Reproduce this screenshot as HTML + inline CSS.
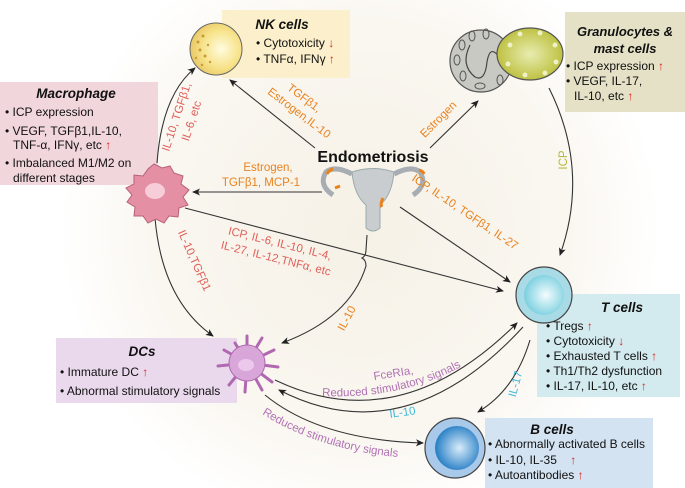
<!DOCTYPE html>
<html><head><meta charset="utf-8"><style>
html,body{margin:0;padding:0;background:#fff;width:685px;height:488px;overflow:hidden}
svg{display:block;font-family:"Liberation Sans",Arial,sans-serif}
</style></head><body>
<svg width="685" height="488" viewBox="0 0 685 488" xmlns="http://www.w3.org/2000/svg" overflow="hidden">
<defs>
<radialGradient id="bg" cx="360" cy="230" r="300" gradientUnits="userSpaceOnUse">
<stop offset="0" stop-color="#f6f1e6"/><stop offset="0.7" stop-color="#faf7f1"/><stop offset="1" stop-color="#ffffff"/></radialGradient>
<marker id="ar" markerWidth="8" markerHeight="8" refX="7" refY="4" orient="auto" markerUnits="userSpaceOnUse"><path d="M0,0.5 L8,4 L0,7.5 L2,4z" fill="#222"/></marker>
<radialGradient id="nk" cx="0.6" cy="0.5" r="0.6"><stop offset="0" stop-color="#fffbe0"/><stop offset="0.6" stop-color="#f7e38a"/><stop offset="1" stop-color="#e7c763"/></radialGradient>
<radialGradient id="tc" cx="0.55" cy="0.5" r="0.6"><stop offset="0" stop-color="#f3fcfe"/><stop offset="1" stop-color="#6fcbdc"/></radialGradient>
<radialGradient id="bc" cx="0.55" cy="0.5" r="0.6"><stop offset="0" stop-color="#d9ecfa"/><stop offset="1" stop-color="#1473bf"/></radialGradient>
<radialGradient id="gr" cx="0.5" cy="0.5" r="0.6"><stop offset="0" stop-color="#e8ecb0"/><stop offset="1" stop-color="#b6b92c"/></radialGradient>
</defs>
<rect width="685" height="488" fill="#fff"/>
<circle cx="360" cy="235" r="300" fill="url(#bg)"/>

<rect x="222" y="10" width="128" height="68" fill="#fcf0cc"/>
<rect x="0" y="82" width="158" height="103" fill="#f1d6dc"/>
<rect x="565" y="12" width="120" height="100" fill="#e4e1c6"/>
<rect x="537" y="294" width="143" height="103" fill="#d3eaee"/>
<rect x="485" y="418" width="168" height="70" fill="#d4e3f2"/>
<rect x="56" y="338" width="181" height="65" fill="#ead9ec"/>

<g fill="none" stroke="#333" stroke-width="1.1">
<path d="M157,163 Q162,95 195,68" marker-end="url(#ar)"/>
<path d="M315,148 L230,80" marker-end="url(#ar)"/>
<path d="M430,148 L478,101" marker-end="url(#ar)"/>
<path d="M322,192 L193,192" marker-end="url(#ar)"/>
<path d="M400,207 L510,282" marker-end="url(#ar)"/>
<path d="M185,208 L503,291" marker-end="url(#ar)"/>
<path d="M367,235 L366,250 Q366,256 362,258 Q366,260 366,266 Q350,318 282,343" marker-end="url(#ar)"/>
<path d="M155,218 Q162,300 213,336" marker-end="url(#ar)"/>
<path d="M549,88 Q590,170 560,255" marker-end="url(#ar)"/>
<path d="M275,380 Q400,440 517,323" marker-end="url(#ar)"/>
<path d="M523,327 Q405,455 279,390" marker-end="url(#ar)"/>
<path d="M530,340 Q515,390 478,412" marker-end="url(#ar)"/>
<path d="M265,395 Q320,440 423,443" marker-end="url(#ar)"/>
</g>
<path id="p1" d="M322,396 Q410,400 476,358" fill="none"/>
<path id="p2" d="M262,414 Q322,452 410,458" fill="none"/>

<circle cx="216" cy="49" r="26" fill="url(#nk)" stroke="#666" stroke-width="1"/>
<g fill="#c99a3c"><circle cx="198" cy="42" r="1.5"/><circle cx="203" cy="36" r="1.5"/><circle cx="200" cy="50" r="1.5"/><circle cx="205" cy="56" r="1.5"/><circle cx="196" cy="58" r="1.2"/><circle cx="208" cy="45" r="1.2"/><circle cx="210" cy="62" r="1.2"/><circle cx="202" cy="65" r="1.2"/></g>
<path d="M154,164 l8,4 8,-2 4,7 9,3 -2,8 8,6 -6,7 5,8 -9,3 -1,9 -9,-1 -5,7 -8,-4 -8,4 -5,-7 -9,0 1,-9 -8,-5 5,-7 -6,-7 8,-4 0,-9 9,1 5,-7z" fill="#e58fa4" stroke="#b8607a" stroke-width="1"/>
<ellipse cx="155" cy="191" rx="10" ry="8" fill="#f6cdd8"/>
<circle cx="481" cy="61" r="31" fill="#c9c9c3" stroke="#555" stroke-width="1.2"/>
<path d="M470,45 q-10,20 5,32 q10,5 12,-15 q3,-18 12,-5" fill="none" stroke="#444" stroke-width="1.2"/>
<g fill="none" stroke="#555"><ellipse cx="462" cy="45" rx="3" ry="5"/><ellipse cx="472" cy="36" rx="3" ry="5"/><ellipse cx="486" cy="34" rx="3" ry="5"/><ellipse cx="457" cy="60" rx="3" ry="5"/><ellipse cx="463" cy="76" rx="3" ry="5"/><ellipse cx="480" cy="86" rx="5" ry="3"/><ellipse cx="500" cy="80" rx="3" ry="5"/><ellipse cx="505" cy="50" rx="3" ry="5"/></g>
<ellipse cx="530" cy="54" rx="33" ry="26" fill="url(#gr)" stroke="#555" stroke-width="1.2"/>
<g fill="#eef0c5"><circle cx="510" cy="45" r="2.5"/><circle cx="520" cy="34" r="2.5"/><circle cx="540" cy="33" r="2.5"/><circle cx="555" cy="45" r="2.5"/><circle cx="556" cy="62" r="2.5"/><circle cx="545" cy="73" r="2.5"/><circle cx="525" cy="75" r="2.5"/><circle cx="508" cy="64" r="2.5"/></g>
<circle cx="544" cy="295" r="28" fill="#a9dbe6" stroke="#444" stroke-width="1.2"/>
<circle cx="544" cy="295" r="20" fill="url(#tc)"/>
<circle cx="455" cy="448" r="30" fill="#a9c9ea" stroke="#444" stroke-width="1.2"/>
<circle cx="457" cy="448" r="22" fill="url(#bc)"/>
<g stroke="#b069b0" stroke-width="3" stroke-linecap="round" fill="none">
<path d="M247,363 L235,343 M247,363 L247,336 M247,363 L262,338 M247,363 L274,350 M247,363 L278,367 M247,363 L272,382 M247,363 L262,390 M247,363 L245,392 M247,363 L229,385 M247,363 L218,366 M247,363 L224,350"/></g>
<circle cx="247" cy="363" r="18" fill="#d8a6d8" stroke="#b069b0"/>
<ellipse cx="246" cy="365" rx="8" ry="6" fill="#ecc9ec"/>
<g>
<path d="M352,172 Q373,165 394,172 Q392,195 380,205 L380,228 Q373,234 366,228 L366,205 Q354,195 352,172z" fill="#c9cdd0" stroke="#9aa" />
<path d="M352,174 Q335,165 326,172 Q318,185 333,195" fill="none" stroke="#a7adb2" stroke-width="5"/>
<path d="M394,174 Q411,165 420,172 Q428,185 413,195" fill="none" stroke="#a7adb2" stroke-width="5"/>
<path d="M327,174 q2,-4 6,-5 M419,170 q4,1 5,4 M340,186 l-5,2 M383,198 q-3,6 -1,9" stroke="#e8821e" stroke-width="3" fill="none"/>
</g>

<g font-size="11.5" fill="#e8821e">
<text transform="translate(302,101) rotate(37)" text-anchor="middle">TGFβ1,</text>
<text transform="translate(297,116) rotate(37)" text-anchor="middle">Estrogen,IL-10</text>
<text transform="translate(441,122) rotate(-45)" text-anchor="middle">Estrogen</text>
<text x="268" y="171" text-anchor="middle">Estrogen,</text>
<text x="261" y="186" text-anchor="middle">TGFβ1, MCP-1</text>
<text transform="translate(463,215) rotate(34)" text-anchor="middle">ICP, IL-10, TGFβ1, IL-27</text>
<text transform="translate(350,320) rotate(-62)" text-anchor="middle">IL-10</text>
</g>
<g font-size="11.5" fill="#e0605a">
<text transform="translate(180,118) rotate(-72)" text-anchor="middle">IL-10, TGFβ1,</text>
<text transform="translate(195,122) rotate(-72)" text-anchor="middle">IL-6, etc</text>
<text transform="translate(279,247) rotate(14)" text-anchor="middle">ICP, IL-6, IL-10, IL-4,</text>
<text transform="translate(275,262) rotate(14)" text-anchor="middle">IL-27, IL-12,TNFα, etc</text>
<text transform="translate(191,262) rotate(66)" text-anchor="middle">IL-10,TGFβ1</text>
</g>
<text transform="translate(567,160) rotate(-90)" text-anchor="middle" font-size="11.5" fill="#b5b53a">ICP</text>
<g font-size="11.5" fill="#b071b4">
<text transform="translate(394,377) rotate(-9)" text-anchor="middle">FceRIa,</text>
<text><textPath href="#p1">Reduced stimulatory signals</textPath></text>
<text><textPath href="#p2">Reduced stimulatory signals</textPath></text>
</g>
<g font-size="11.5" fill="#3fb9d8">
<text transform="translate(403,416) rotate(-8)" text-anchor="middle">IL-10</text>
<text transform="translate(519,385) rotate(-75)" text-anchor="middle">IL-17</text>
</g>
<text x="373" y="162" text-anchor="middle" font-size="16" font-weight="bold" fill="#111">Endometriosis</text>

<g font-size="12" fill="#111">
<text x="282" y="29" text-anchor="middle" font-weight="bold" font-style="italic" font-size="13.5">NK cells</text>
<text x="256" y="47">• Cytotoxicity <tspan fill="#d22" font-weight="bold">↓</tspan></text>
<text x="256" y="63">• TNFα, IFNγ <tspan fill="#d22" font-weight="bold">↑</tspan></text>

<text x="76" y="98" text-anchor="middle" font-weight="bold" font-style="italic" font-size="13.5">Macrophage</text>
<text x="5" y="116">• ICP expression</text>
<text x="5" y="135">• VEGF, TGFβ1,IL-10,</text>
<text x="13" y="149">TNF-α, IFNγ, etc <tspan fill="#d22" font-weight="bold">↑</tspan></text>
<text x="5" y="167">• Imbalanced M1/M2 on</text>
<text x="13" y="182">different stages</text>

<text x="625" y="36" text-anchor="middle" font-weight="bold" font-style="italic" font-size="13">Granulocytes &amp;</text>
<text x="625" y="53" text-anchor="middle" font-weight="bold" font-style="italic" font-size="13">mast cells</text>
<text x="566" y="70">• ICP expression <tspan fill="#d22" font-weight="bold">↑</tspan></text>
<text x="566" y="85">• VEGF, IL-17,</text>
<text x="574" y="100">IL-10, etc <tspan fill="#d22" font-weight="bold">↑</tspan></text>

<text x="622" y="312" text-anchor="middle" font-weight="bold" font-style="italic" font-size="13.5">T cells</text>
<text x="546" y="330">• Tregs <tspan fill="#d22" font-weight="bold">↑</tspan></text>
<text x="546" y="345">• Cytotoxicity <tspan fill="#d22" font-weight="bold">↓</tspan></text>
<text x="546" y="360">• Exhausted T cells <tspan fill="#d22" font-weight="bold">↑</tspan></text>
<text x="546" y="375">• Th1/Th2 dysfunction</text>
<text x="546" y="390">• IL-17, IL-10, etc <tspan fill="#d22" font-weight="bold">↑</tspan></text>

<text x="552" y="434" text-anchor="middle" font-weight="bold" font-style="italic" font-size="13.5">B cells</text>
<text x="488" y="448">• Abnormally activated B cells</text>
<text x="488" y="464">• IL-10, IL-35 <tspan dx="10" fill="#d22" font-weight="bold">↑</tspan></text>
<text x="488" y="479">• Autoantibodies <tspan fill="#d22" font-weight="bold">↑</tspan></text>

<text x="142" y="356" text-anchor="middle" font-weight="bold" font-style="italic" font-size="13.5">DCs</text>
<text x="60" y="376">• Immature DC <tspan fill="#d22" font-weight="bold">↑</tspan></text>
<text x="60" y="395">• Abnormal stimulatory signals</text>
</g>
</svg>
</body></html>
